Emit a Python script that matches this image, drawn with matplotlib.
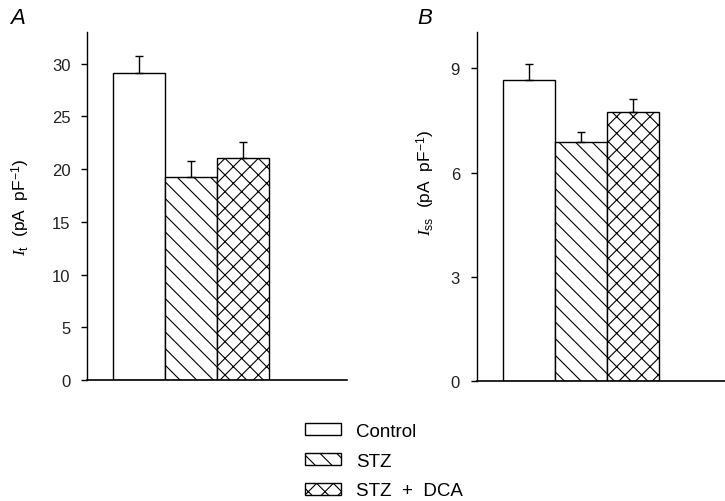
import matplotlib
matplotlib.use("Agg")
import matplotlib.pyplot as plt
from matplotlib.patches import Patch

plt.rcParams['font.family'] = ['Liberation Sans', 'DejaVu Sans']
plt.rcParams['mathtext.fontset'] = 'custom'
plt.rcParams['mathtext.it'] = 'Liberation Serif:italic'
plt.rcParams['mathtext.rm'] = 'Liberation Sans'
plt.rcParams['hatch.linewidth'] = 0.8

groups = ['Control', 'STZ', 'STZ  +  DCA']
It_mean = [29.1, 19.25, 21.05]
It_err = [1.6, 1.5, 1.5]
Iss_mean = [8.68, 6.88, 7.75]
Iss_err = [0.45, 0.28, 0.37]
It_ticks = [0, 5, 10, 15, 20, 25, 30]
Iss_ticks = [0, 3, 6, 9]

fig = plt.figure(figsize=(7.25, 5.02), dpi=100)
axA = fig.add_axes([87/725, 1-381/502, 260/725, 348/502])
axB = fig.add_axes([476.7/725, 1-381.7/502, 260/725, 348.7/502])

hatches = ['', '\\\\', 'xx']

def draw(ax, means, errs, ticks, ytop, ylabel, lx, ly, letter, letx):
    x = list(range(len(means)))
    for xi, m, e, h in zip(x, means, errs, hatches):
        ax.bar(xi, m, width=1.0, color='white', edgecolor='black', linewidth=1.0,
               hatch=h, zorder=2)
        ax.errorbar(xi, m, yerr=[[0], [e]], fmt='none', ecolor='black',
                    elinewidth=1.0, capsize=3, capthick=1.0, zorder=3)
    ax.set_xlim(-1, 4)
    ax.set_ylim(0, ytop)
    ax.set_yticks(ticks)
    ax.set_xticks([])
    ax.spines['top'].set_visible(False)
    ax.spines['right'].set_visible(False)
    ax.spines['left'].set_linewidth(1.0)
    ax.spines['bottom'].set_linewidth(1.2)
    ax.tick_params(axis='y', direction='out', length=4, width=1.0, labelsize=12,
                   pad=8, labelcolor='#222222')
    ax.set_ylabel(ylabel, fontsize=12.5)
    ax.yaxis.set_label_coords(lx, ly)
    fig.text(letx, 1-18/502, letter, fontsize=16, style='italic', va='center', ha='left')

draw(axA, It_mean, It_err, It_ticks, 33, r'$I_{\rm t}$  (pA  pF$^{-1}$)', -0.212, 0.5, 'A', 10/725)
draw(axB, Iss_mean, Iss_err, Iss_ticks, 10.05, r'$I_{\rm ss}$  (pA  pF$^{-1}$)', -0.153, 0.57, 'B', 417/725)

handles = [Patch(facecolor='white', edgecolor='black', linewidth=1.0, hatch=h) for h in hatches]
fig.legend(handles, groups, loc='upper left', bbox_to_anchor=(305/725, 1-424/502),
           frameon=False, fontsize=13.5, handlelength=1.9, handleheight=0.6,
           labelspacing=0.68, handletextpad=0.8, borderpad=0, borderaxespad=0)

fig.savefig('out.png', dpi=100)
